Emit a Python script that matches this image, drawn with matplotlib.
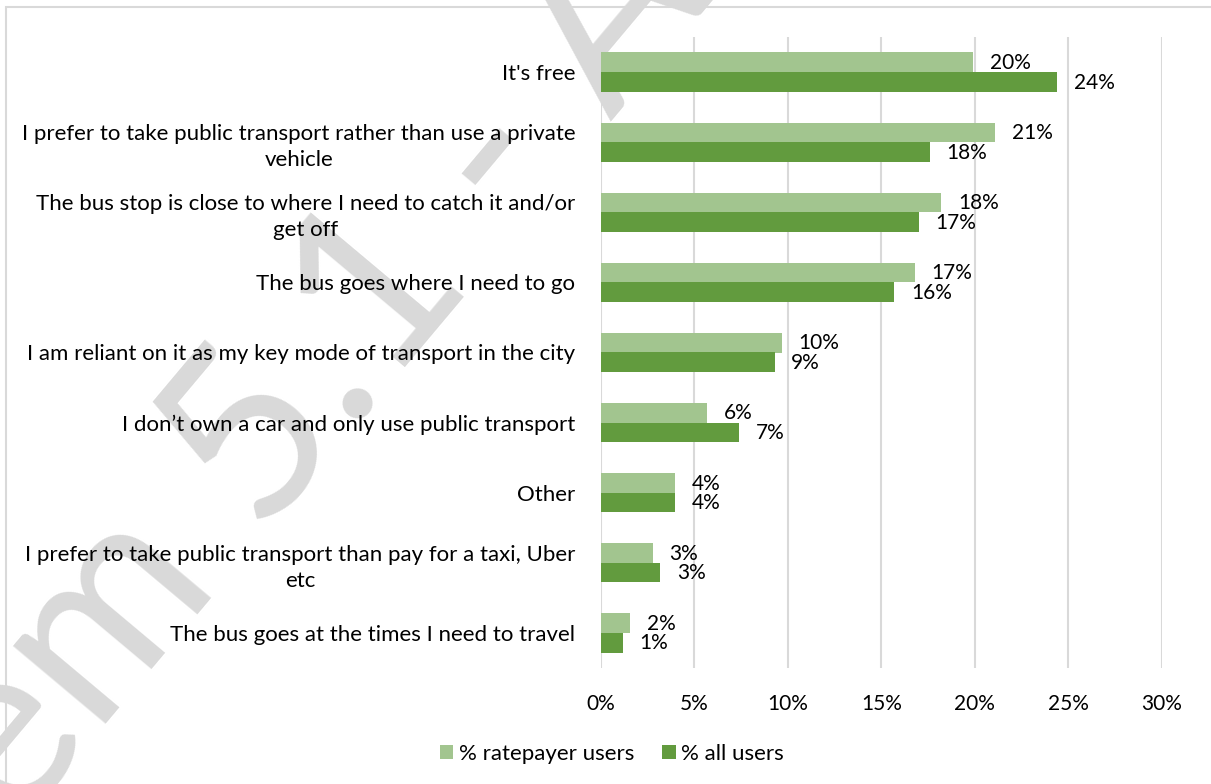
import matplotlib
matplotlib.use("Agg")
import matplotlib.pyplot as plt
import numpy as np
from matplotlib.patches import Rectangle
from matplotlib.ticker import FuncFormatter

# Reasons for using the free bus service (% of respondents)
categories = [
    "It's free",
    "I prefer to take public transport rather than use a private\nvehicle",
    "The bus stop is close to where I need to catch it and/or\nget off",
    "The bus goes where I need to go",
    "I am reliant on it as my key mode of transport in the city",
    "I don\u2019t own a car and only use public transport",
    "Other",
    "I prefer to take public transport than pay for a taxi, Uber\netc",
    "The bus goes at the times I need to travel",
]
ratepayer_users = [19.9, 21.1, 18.2, 16.8, 9.7, 5.7, 4.0, 2.8, 1.6]
all_users = [24.4, 17.6, 17.0, 15.7, 9.3, 7.4, 4.0, 3.2, 1.2]
series_names = ["% ratepayer users", "% all users"]
x_ticks = [0, 5, 10, 15, 20, 25, 30]

LIGHT = "#a2c58f"
DARK = "#629b3e"
GRID = "#d9d9d9"
FONT = "Lato"
FS_TEXT = 16
FS_NUM = 15

plt.rcParams["font.family"] = [FONT, "DejaVu Sans"]

W, H = 1211, 784
fig = plt.figure(figsize=(W / 100, H / 100), dpi=100)
fig.patch.set_facecolor("white")

ax = fig.add_axes([600.5 / W, 1 - 668 / H, (1162 - 600.5) / W, (668 - 37) / H])
ax.patch.set_alpha(0)

y = np.arange(len(categories))
bh = 0.28
b1 = ax.barh(y - bh / 2, ratepayer_users, height=bh, color=LIGHT, label=series_names[0], zorder=3)
b2 = ax.barh(y + bh / 2, all_users, height=bh, color=DARK, label=series_names[1], zorder=3)

for bars, vals in ((b1, ratepayer_users), (b2, all_users)):
    for rect, v in zip(bars, vals):
        ax.annotate(f"{round(v):d}%", xy=(v, rect.get_y() + rect.get_height() / 2),
                    xytext=(12.0, -0.5), textcoords="offset points",
                    ha="left", va="center", fontsize=FS_NUM, color="#000000")

ax.set_xlim(0, 30)
ax.set_ylim(len(categories) - 0.5, -0.5)
ax.set_xticks(x_ticks)
ax.xaxis.set_major_formatter(FuncFormatter(lambda v, p: f"{v:.0f}%"))
ax.set_yticks(y)
ax.set_yticklabels(categories, fontsize=FS_TEXT, multialignment="center", linespacing=1.36)
ax.tick_params(axis="both", length=0, colors="#000000")
ax.tick_params(axis="x", labelsize=FS_NUM, pad=19)
ax.tick_params(axis="y", pad=18)
ax.grid(axis="x", color=GRID, linewidth=1.5, zorder=0)
for s in ax.spines.values():
    s.set_visible(False)

fig.legend(handles=[b1, b2], labels=series_names, loc="center",
           bbox_to_anchor=(612 / W, 1 - 754 / H), ncol=2, frameon=False,
           fontsize=FS_TEXT, handlelength=0.6, handleheight=0.6,
           handletextpad=0.25, columnspacing=1.25, borderaxespad=0)

# chart border
fig.add_artist(Rectangle((6 / W, -0.1), 2.0, (1 - 7 / H) + 0.1, fill=False,
                         edgecolor=GRID, linewidth=1.5, transform=fig.transFigure,
                         zorder=1))

# diagonal document stamp behind the chart
fig.text(-84 / W, 1 - 950 / H, "Item 5.1 - Attachment 1", rotation=50,
         rotation_mode="anchor", ha="left", va="baseline", fontsize=172,
         color="#d9d9d9", zorder=-1, family=FONT)

fig.savefig("out.png", dpi=100, facecolor="white")
